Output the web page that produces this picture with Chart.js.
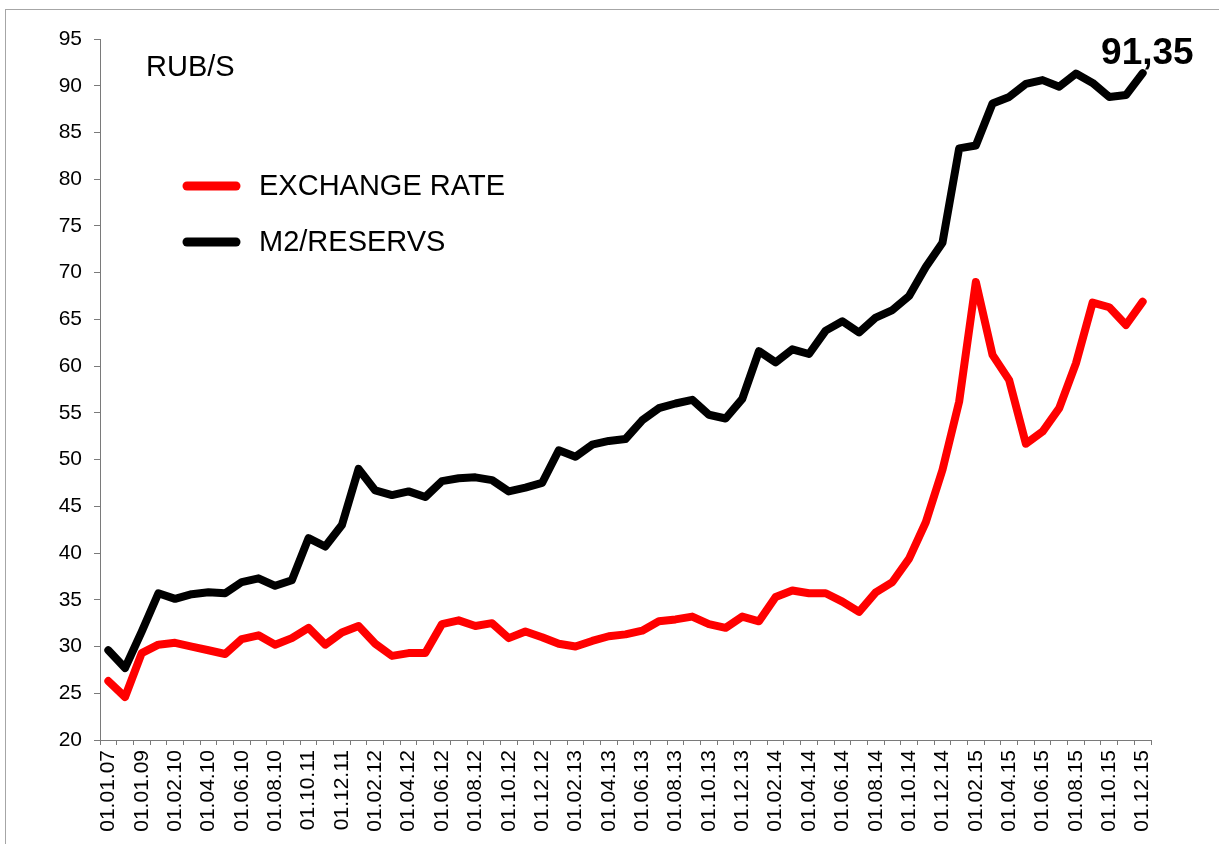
<!DOCTYPE html>
<html>
<head>
<meta charset="utf-8">
<script src="https://cdn.jsdelivr.net/npm/chart.js@4"></script>
<style>
  html, body { margin: 0; padding: 0; background: #fff; overflow: hidden; }
  #wrap { position: absolute; left: 0; top: 0; width: 1219px; height: 844px; }
  #frame { position: absolute; left: 5px; top: 9px; width: 1400px; height: 1000px; border: 1px solid #a6a6a6; box-sizing: border-box; pointer-events: none; }
  canvas { position: absolute; left: 0; top: 0; }
</style>
</head>
<body>
<div id="wrap">
  <div id="frame"></div>
  <canvas id="c" width="1219" height="844"></canvas>
</div>
<script>
const categories = [
  "01.01.07","01.01.08","01.01.09","01.01.10","01.02.10","01.03.10","01.04.10","01.05.10",
  "01.06.10","01.07.10","01.08.10","01.09.11","01.10.11","01.11.11","01.12.11","01.01.12",
  "01.02.12","01.03.12","01.04.12","01.05.12","01.06.12","01.07.12","01.08.12","01.09.12",
  "01.10.12","01.11.12","01.12.12","01.01.13","01.02.13","01.03.13","01.04.13","01.05.13",
  "01.06.13","01.07.13","01.08.13","01.09.13","01.10.13","01.11.13","01.12.13","01.01.14",
  "01.02.14","01.03.14","01.04.14","01.05.14","01.06.14","01.07.14","01.08.14","01.09.14",
  "01.10.14","01.11.14","01.12.14","01.01.15","01.02.15","01.03.15","01.04.15","01.05.15",
  "01.06.15","01.07.15","01.08.15","01.09.15","01.10.15","01.11.15","01.12.15"
];

const exchangeRate = [
  26.3, 24.6, 29.3, 30.2, 30.4, 30.0, 29.6, 29.2, 30.8, 31.2,
  30.2, 30.9, 32.0, 30.2, 31.5, 32.2, 30.3, 29.0, 29.3, 29.3,
  32.4, 32.8, 32.2, 32.5, 30.9, 31.6, 31.0, 30.3, 30.0, 30.6,
  31.1, 31.3, 31.7, 32.7, 32.9, 33.2, 32.4, 32.0, 33.2, 32.7,
  35.3, 36.0, 35.7, 35.7, 34.8, 33.7, 35.8, 36.9, 39.4, 43.3,
  48.9, 56.2, 69.0, 61.2, 58.5, 51.7, 53.0, 55.5, 60.3, 66.8,
  66.3, 64.4, 66.9
];

const m2Reserves = [
  29.6, 27.7, 31.6, 35.7, 35.1, 35.6, 35.8, 35.7, 36.9, 37.3,
  36.5, 37.1, 41.6, 40.7, 43.0, 49.0, 46.7, 46.2, 46.6, 46.0,
  47.7, 48.0, 48.1, 47.8, 46.6, 47.0, 47.5, 51.0, 50.3, 51.6,
  52.0, 52.2, 54.2, 55.5, 56.0, 56.4, 54.8, 54.4, 56.5, 61.6,
  60.4, 61.8, 61.3, 63.8, 64.8, 63.6, 65.2, 66.0, 67.5, 70.6,
  73.2, 83.3, 83.6, 88.1, 88.8, 90.2, 90.6, 89.9, 91.3, 90.3,
  88.8, 89.0, 91.35
];

const seriesNames = ["EXCHANGE RATE", "M2/RESERVS"];
const unitLabel = "RUB/S";
const lastValueLabel = "91,35";
const yMin = 20, yMax = 95, yStep = 5;

const FONT = "'Liberation Sans', Arial, sans-serif";
const axisColor = "#7a7a7a";

const overlayPlugin = {
  id: 'overlay',
  afterDatasetsDraw(chart) {
    const ctx = chart.ctx;
    ctx.save();
    ctx.fillStyle = '#000';
    ctx.font = "29px " + FONT;
    ctx.textAlign = 'left';
    ctx.textBaseline = 'alphabetic';
    ctx.fillText(unitLabel, 146, 76);

    const items = [
      { name: seriesNames[0], color: chart.data.datasets[0].borderColor, y: 186 },
      { name: seriesNames[1], color: chart.data.datasets[1].borderColor, y: 242 }
    ];
    items.forEach(it => {
      ctx.strokeStyle = it.color;
      ctx.lineWidth = 9;
      ctx.lineCap = 'round';
      ctx.beginPath();
      ctx.moveTo(187, it.y);
      ctx.lineTo(236, it.y);
      ctx.stroke();
      ctx.fillStyle = '#000';
      ctx.font = "29px " + FONT;
      ctx.textBaseline = 'middle';
      ctx.fillText(it.name, 259, it.y + 1);
    });

    const meta = chart.getDatasetMeta(1);
    const last = meta.data[meta.data.length - 1];
    ctx.font = "bold 37px " + FONT;
    ctx.textAlign = 'right';
    ctx.textBaseline = 'alphabetic';
    ctx.fillStyle = '#000';
    ctx.fillText(lastValueLabel, last.x + 51, last.y - 9);
    ctx.restore();
  }
};

new Chart(document.getElementById('c'), {
  type: 'line',
  data: {
    labels: categories,
    datasets: [
      {
        label: seriesNames[0],
        data: exchangeRate,
        borderColor: '#ff0000',
        backgroundColor: '#ff0000',
        borderWidth: 8,
        pointRadius: 0,
        tension: 0,
        borderJoinStyle: 'round',
        borderCapStyle: 'round'
      },
      {
        label: seriesNames[1],
        data: m2Reserves,
        borderColor: '#000000',
        backgroundColor: '#000000',
        borderWidth: 8,
        pointRadius: 0,
        tension: 0,
        borderJoinStyle: 'round',
        borderCapStyle: 'round'
      }
    ]
  },
  options: {
    responsive: false,
    animation: false,
    events: [],
    layout: { padding: { left: 0, top: 39, right: 68, bottom: 0 } },
    plugins: { legend: { display: false }, tooltip: { enabled: false } },
    scales: {
      x: {
        type: 'category',
        offset: true,
        afterFit(scale) { scale.height = 104; },
        grid: {
          offset: true,
          drawOnChartArea: false,
          drawTicks: true,
          tickLength: 5,
          color: axisColor,
          lineWidth: 1
        },
        border: { display: true, color: axisColor, width: 1 },
        ticks: {
          autoSkip: false,
          minRotation: 90,
          maxRotation: 90,
          padding: 5,
          color: '#000',
          font: { family: FONT, size: 21 },
          callback(value, index) { return index % 2 === 0 ? this.getLabelForValue(value) : ''; }
        }
      },
      y: {
        min: yMin,
        max: yMax,
        afterFit(scale) { scale.width = 100; },
        grid: {
          drawOnChartArea: false,
          drawTicks: true,
          tickLength: 6,
          color: axisColor,
          lineWidth: 1
        },
        border: { display: true, color: axisColor, width: 1 },
        ticks: {
          stepSize: yStep,
          padding: 12,
          color: '#000',
          font: { family: FONT, size: 21 }
        }
      }
    }
  },
  plugins: [overlayPlugin]
});
</script>
</body>
</html>
